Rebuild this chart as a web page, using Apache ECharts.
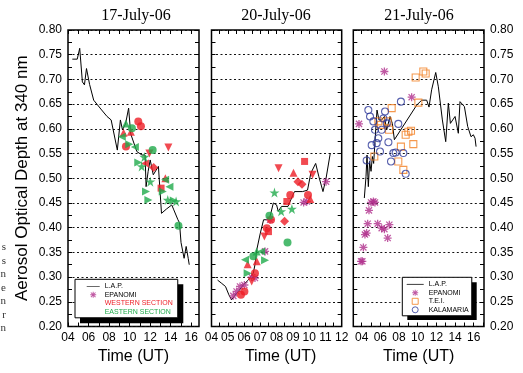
<!DOCTYPE html>
<html>
<head>
<meta charset="utf-8">
<script src="https://cdn.jsdelivr.net/npm/echarts@6/dist/echarts.min.js"></script>
<style>
  html, body { margin: 0; padding: 0; background: #fff; }
  #chart { width: 523px; height: 373px; }
</style>
</head>
<body>
<div id="chart"></div>
<script>
// data: [time UT, AOD] and, for the sections, a station id
const dayTitles = ['17-July-06', '20-July-06', '21-July-06'];
const hourLabels17 = [4, 6, 8, 10, 12, 14, 16];
const hourLabels20 = [4, 5, 6, 7, 8, 9, 10, 11, 12];
const hourLabels21 = [4, 6, 8, 10, 12, 14, 16];
const marginLetters = ['s', 's', 'n', 'e', 'n', 'r', 'n'];

const lap17 = [[4.42,0.741],[4.9,0.741],[5.14,0.763],[5.4,0.695],[5.6,0.689],[5.8,0.722],[6.1,0.69],[6.5,0.658],
  [7.2,0.64],[7.8,0.625],[8.2,0.618],[8.8,0.557],[9.1,0.618],[9.3,0.598],[9.6,0.61],[9.9,0.642],[10.1,0.59],
  [10.7,0.554],[11.2,0.547],[11.5,0.547],[11.6,0.483],[11.8,0.514],[12.0,0.537],[12.3,0.507],[12.8,0.524],
  [13.1,0.429],[13.6,0.438],[14.1,0.446],[14.3,0.436],[14.7,0.416],[14.85,0.41],[15.0,0.37],[15.3,0.338],
  [15.5,0.362],[15.7,0.338],[15.8,0.325]];
const west17 = [[9.64,0.564,0],[10.84,0.615,0],[11.1,0.605,0],[9.41,0.592,1],[10.12,0.594,1],[13.77,0.562,2],
  [12.34,0.522,5],[11.92,0.55,2],[13.06,0.48,6],[13.48,0.5,1],[11.49,0.53,3]];
const east17 = [[9.64,0.611,1],[9.24,0.584,3],[10.22,0.601,0],[9.96,0.569,4],[10.51,0.563,3],[10.84,0.532,4],
  [11.17,0.524,7],[11.43,0.543,7],[12.24,0.557,0],[12.01,0.493,7],[11.59,0.473,4],[11.82,0.456,4],
  [13.45,0.497,3],[13.22,0.473,4],[13.87,0.483,3],[13.71,0.456,7],[14.52,0.453,7],[14.29,0.455,4],[14.75,0.404,0]];

const lap20 = [[4.37,0.294],[4.6,0.288],[4.86,0.281],[5.07,0.264],[5.23,0.254],[5.4,0.261],[5.65,0.271],
  [5.95,0.284],[6.26,0.294],[6.57,0.308],[6.67,0.325],[6.78,0.355],[7.0,0.389],[7.2,0.416],[7.4,0.416],
  [7.6,0.423],[7.8,0.45],[8.0,0.446],[8.1,0.433],[8.3,0.443],[8.7,0.443],[9.0,0.466],[9.1,0.473],[9.6,0.473],
  [9.9,0.476],[10.1,0.51],[10.4,0.53],[10.6,0.503],[10.85,0.473],[11.04,0.5],[11.3,0.551]];
const epanomi20 = [[5.34,0.262],[5.54,0.271],[5.75,0.281],[6.02,0.284],[6.47,0.3],[6.67,0.298],[7.29,0.352],
  [7.6,0.416],[9.66,0.451],[9.86,0.453],[11.04,0.493]];
const west20 = [[5.81,0.264,0],[6.02,0.271,0],[6.47,0.291,2],[6.67,0.308,0],[6.22,0.326,1],[6.78,0.332,1],
  [7.25,0.382,2],[7.5,0.392,6],[7.4,0.399,0],[7.66,0.416,0],[8.12,0.52,2],[8.49,0.413,5],[8.63,0.453,6],
  [8.84,0.466,0],[9.04,0.511,1],[9.31,0.493,5],[9.56,0.488,5],[9.72,0.534,6],[9.93,0.466,0],[10.07,0.458,1],
  [10.21,0.507,2]];
const east20 = [[6.06,0.335,3],[6.22,0.308,4],[6.57,0.342,0],[6.78,0.352,1],[7.05,0.352,3],[7.29,0.334,4],
  [7.56,0.424,0],[7.87,0.471,7],[8.28,0.433,7],[8.94,0.438,7],[8.67,0.37,0]];

const lap21 = [[4.28,0.46],[4.46,0.503],[4.57,0.547],[4.71,0.483],[4.85,0.534],[5.0,0.514],[5.14,0.544],
  [5.28,0.53],[5.5,0.598],[5.64,0.638],[5.85,0.618],[6.14,0.618],[6.43,0.625],[6.68,0.598],[7.03,0.625],
  [7.28,0.611],[7.5,0.578],[9.89,0.648],[10.43,0.658],[10.96,0.658],[11.21,0.644],[11.49,0.679],[11.93,0.714],
  [12.21,0.685],[12.64,0.618],[13.0,0.574],[13.28,0.652],[13.5,0.611],[14.0,0.625],[14.35,0.591],[14.53,0.655],
  [15.0,0.645],[15.35,0.605],[15.71,0.584],[15.96,0.588],[16.14,0.581],[16.25,0.564]];
const epanomi21 = [[3.71,0.61],[3.93,0.332],[4.07,0.332],[4.18,0.36],[4.35,0.386],[4.53,0.389],[4.64,0.408],
  [4.78,0.435],[5.0,0.451],[5.25,0.453],[5.42,0.451],[5.71,0.408],[6.14,0.399],[6.43,0.397],[6.43,0.716],
  [6.78,0.379],[6.96,0.406],[9.35,0.664]];
const tei21 = [[5.35,0.544],[5.78,0.615],[6.07,0.608],[6.78,0.615],[6.93,0.598],[7.21,0.642],[7.92,0.534],
  [8.2,0.564],[8.46,0.517],[8.71,0.588],[9.0,0.594],[9.28,0.596],[9.53,0.569],[9.78,0.704],[10.07,0.653],
  [10.6,0.716],[10.85,0.712]];
const kalamaria21 = [[4.53,0.536],[4.71,0.638],[4.89,0.625],[5.07,0.567],[5.25,0.615],[5.42,0.598],[5.6,0.571],
  [5.78,0.581],[5.96,0.554],[6.14,0.598],[6.32,0.621],[6.5,0.635],[6.68,0.611],[6.86,0.573],[7.14,0.534],
  [7.39,0.551],[7.64,0.552],[7.92,0.61],[8.2,0.655],[8.46,0.551],[8.71,0.509]];

document.addEventListener('DOMContentLoaded', function() {
  const chart = echarts.init(document.getElementById('chart'));
  const sans = 'Liberation Sans, Arial, sans-serif';
  const serif = 'Liberation Serif, Times New Roman, serif';
  const RED = '#ee1d25', GREEN = '#1faa4b', MAGENTA = '#b0308c', ORANGE = '#f37f22', BLUE = '#2e3a9a';

  const asterisk = 'path://M0,4.2H10V5.8H0Z M4.2,0H5.8V10H4.2Z M1.7,0.6L9.4,8.3L8.3,9.4L0.6,1.7Z M8.3,0.6L9.4,1.7L1.7,9.4L0.6,8.3Z';
  const star = 'path://M5,0L6.18,3.62L10,3.62L6.91,5.85L8.09,9.5L5,7.25L1.91,9.5L3.09,5.85L0,3.62L3.82,3.62Z';
  // plain line for the legend, the zero-length strokes only pin the box
  const lineIcon = 'path://M0,0L0,0 M0,2.55H20V3.45H0Z M20,6L20,6';
  const squareIcon = 'path://M0,0H10V10H0Z';
  // station id -> marker shape
  const stationSymbol = ['circle', 'triangle', 'triangle', 'triangle', 'triangle', 'diamond', 'rect', star];
  const stationRotate = [0, 0, 180, 90, -90, 0, 0, 0];
  const stationSize = [8, 8, 8, 8, 8, 9, 7, 10];

  const grids = [
    { left: 68, top: 30, width: 131, height: 296.5 },
    { left: 211.5, top: 30, width: 130.2, height: 296.5 },
    { left: 353.3, top: 30, width: 130.7, height: 296.5 }
  ].map(g => Object.assign(g, { show: true, borderColor: '#000', borderWidth: 1.5, backgroundColor: 'transparent' }));

  const xRanges = [[4, 16.75], [4, 12], [3.1, 17.1]];
  const tickSets = [
    [4,5,6,7,8,9,10,11,12,13,14,15,16],
    [4,4.5,5,5.5,6,6.5,7,7.5,8,8.5,9,9.5,10,10.5,11,11.5,12],
    [4,5,6,7,8,9,10,11,12,13,14,15,16,17]
  ];
  const labelSets = [hourLabels17, hourLabels20, hourLabels21];
  const two = v => (v < 10 ? '0' : '') + v;

  const xAxis = [];
  for (let i = 0; i < 3; i++) {
    xAxis.push({
      type: 'value', gridIndex: i, min: xRanges[i][0], max: xRanges[i][1],
      axisLine: { show: false }, splitLine: { show: false },
      axisTick: { inside: true, length: 4, lineStyle: { color: '#000' }, customValues: tickSets[i] },
      axisLabel: { customValues: labelSets[i], formatter: two, color: '#000', fontSize: 12, fontFamily: sans, margin: 5 },
      name: 'Time (UT)', nameLocation: 'middle', nameGap: 22,
      nameTextStyle: { fontSize: 16, fontFamily: sans, color: '#000', padding: i === 1 ? [0, 0, 0, 8] : 0 }
    });
  }
  for (let i = 0; i < 3; i++) {
    xAxis.push({
      type: 'value', gridIndex: i, position: 'top', min: xRanges[i][0], max: xRanges[i][1],
      axisLine: { show: false }, splitLine: { show: false }, axisLabel: { show: false },
      axisTick: { inside: true, length: 4, lineStyle: { color: '#000' }, customValues: tickSets[i] }
    });
  }

  const yBase = {
    type: 'value', min: 0.2, max: 0.8, interval: 0.05,
    axisLine: { show: false },
    axisTick: { inside: true, length: 4, lineStyle: { color: '#000' } },
    minorTick: { show: true, splitNumber: 2, length: 4, lineStyle: { color: '#000' } },
    axisLabel: { show: false, color: '#000', fontSize: 12, fontFamily: sans, margin: 6 }
  };
  const yAxis = [];
  for (let i = 0; i < 6; i++) {
    const y = JSON.parse(JSON.stringify(yBase));
    y.gridIndex = i % 3;
    y.position = i < 3 ? 'left' : 'right';
    y.axisLabel.formatter = v => v.toFixed(2);
    y.axisLabel.show = (i === 0 || i === 5);
    y.splitLine = i < 3
      ? { show: true, lineStyle: { color: '#111', type: [2, 2.5], width: 1 } }
      : { show: false };
    if (i === 0) {
      y.name = 'Aerosol Optical Depth at 340 nm';
      y.nameLocation = 'middle';
      y.nameRotate = 90;
      y.nameGap = 37;
      y.nameTextStyle = { fontSize: 17, fontFamily: sans, color: '#000' };
    }
    yAxis.push(y);
  }

  function lapSeries(i, data) {
    return { name: 'L.A.P.', type: 'line', xAxisIndex: i, yAxisIndex: i, data: data, symbol: 'none',
      lineStyle: { color: '#000', width: 1 }, itemStyle: { color: '#000' }, z: 2 };
  }
  function stationSeries(i, name, color, rows) {
    return { name: name, type: 'scatter', xAxisIndex: i, yAxisIndex: i, itemStyle: { color: color }, z: 3,
      data: rows.map(r => ({ value: [r[0], r[1]], symbol: stationSymbol[r[2]],
        symbolRotate: stationRotate[r[2]], symbolSize: stationSize[r[2]] })) };
  }
  function plainSeries(i, name, data, symbol, size, style) {
    return { name: name, type: 'scatter', xAxisIndex: i, yAxisIndex: i, data: data, symbol: symbol,
      symbolSize: size, itemStyle: style, z: 3 };
  }

  const series = [
    lapSeries(0, lap17),
    stationSeries(0, 'WESTERN SECTION', RED, west17),
    stationSeries(0, 'EASTERN SECTION', GREEN, east17),
    lapSeries(1, lap20),
    plainSeries(1, 'EPANOMI', epanomi20, asterisk, 8, { color: MAGENTA }),
    stationSeries(1, 'WESTERN SECTION', RED, west20),
    stationSeries(1, 'EASTERN SECTION', GREEN, east20),
    lapSeries(2, lap21),
    plainSeries(2, 'EPANOMI', epanomi21, asterisk, 8, { color: MAGENTA }),
    plainSeries(2, 'T.E.I.', tei21, 'rect', 7, { color: 'transparent', borderColor: ORANGE, borderWidth: 1.1 }),
    plainSeries(2, 'KALAMARIA', kalamaria21, 'circle', 7, { color: 'transparent', borderColor: BLUE, borderWidth: 1.1 })
  ];

  const legendBase = {
    orient: 'vertical', selectedMode: false, itemHeight: 6, itemGap: 1.5,
    textStyle: { fontSize: 7, fontFamily: sans, color: '#000' },
    backgroundColor: '#fff', borderColor: '#000', borderWidth: 1, z: 6
  };
  const hidden = { opacity: 0 };
  const thin = { borderWidth: 1 };
  const legend = [
    Object.assign({}, legendBase, {
      left: 75, top: 279.3, padding: [3.5, 5, 2.5, 11.7], itemWidth: 13,
      data: [
        { name: 'L.A.P.', icon: lineIcon },
        { name: 'EPANOMI' },
        { name: 'WESTERN SECTION', itemStyle: hidden, textStyle: { color: RED } },
        { name: 'EASTERN SECTION', itemStyle: hidden, textStyle: { color: GREEN } }
      ]
    }),
    Object.assign({}, legendBase, {
      left: 402.3, top: 277.3, padding: [3.5, 3, 2.5, 4.4], itemWidth: 17,
      data: [
        { name: 'L.A.P.', icon: lineIcon },
        { name: 'EPANOMI' },
        { name: 'T.E.I.', icon: squareIcon, itemStyle: thin },
        { name: 'KALAMARIA', icon: 'circle', itemStyle: thin }
      ]
    })
  ];

  const titleCenters = [136, 276, 419];
  const title = dayTitles.map((t, i) => ({
    text: t, left: titleCenters[i], top: 8, textAlign: 'center', padding: 0,
    textStyle: { fontSize: 16, fontWeight: 'normal', fontFamily: serif, color: '#000' }
  }));

  // hard black drop shadows behind the two legend boxes
  const graphic = [
    { type: 'rect', shape: { x: 80, y: 284.3, width: 103.3, height: 39 }, style: { fill: '#000' }, z: 5 },
    { type: 'rect', shape: { x: 407.3, y: 282.3, width: 69.4, height: 37.7 }, style: { fill: '#000' }, z: 5 }
  ].concat(marginLetters.map((ch, i) => ({
    type: 'text', right: 517, top: 242 + i * 13.5,
    style: { text: ch, font: '11px ' + serif, fill: '#333' }
  })));

  chart.setOption({
    animation: false,
    title: title,
    grid: grids,
    xAxis: xAxis,
    yAxis: yAxis,
    legend: legend,
    graphic: graphic,
    series: series
  });
});
</script>
</body>
</html>
